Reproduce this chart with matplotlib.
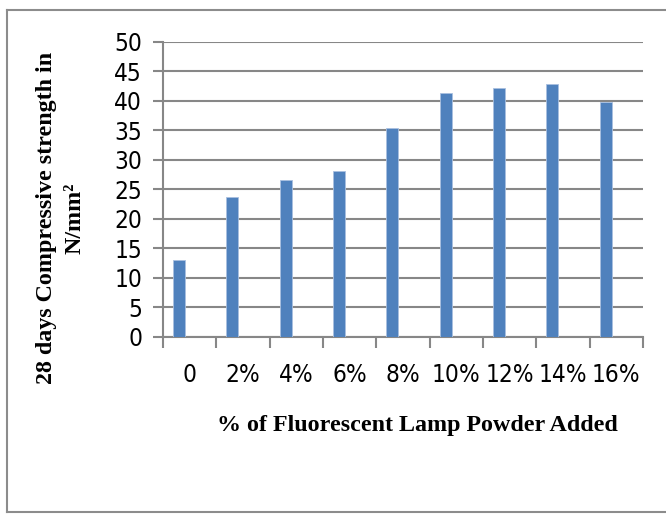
import matplotlib
matplotlib.use("Agg")
import matplotlib.pyplot as plt
from matplotlib.lines import Line2D
import numpy as np

# data
categories = ["0", "2%", "4%", "6%", "8%", "10%", "12%", "14%", "16%"]
strength = [13.0, 23.7, 26.6, 28.1, 35.5, 41.4, 42.2, 42.8, 39.8]

tick_font = ["DejaVu Sans"]
label_font = ["Liberation Serif", "DejaVu Serif"]
grid_col = "#878787"

fig = plt.figure(figsize=(6.66, 5.14), dpi=100)
ax = fig.add_axes([0.2447, 0.3444, 0.7208, 0.5739])

x = np.arange(len(categories))
ax.bar(x - 0.2, strength, width=0.22, color="#4f81bd", edgecolor="#a9c0e0",
       linewidth=0.6, zorder=3)

ax.set_xlim(-0.5, len(categories) - 0.5)
ax.set_ylim(0, 50)
ax.set_yticks(np.arange(0, 51, 5))
ax.yaxis.grid(True, color=grid_col, linewidth=1.5)
ax.set_axisbelow(True)

# category boundaries get the tick marks, labels sit in the middle
ax.set_xticks(np.arange(-0.5, len(categories), 1))
ax.set_xticklabels([])
ax.set_xticks(x, minor=True)
ax.set_xticklabels(categories, minor=True)
ax.tick_params(axis="x", which="major", length=8, width=1.5, color=grid_col)
ax.tick_params(axis="x", which="minor", length=0, pad=19)
ax.tick_params(axis="y", length=7, width=1.5, color=grid_col, pad=8)
for lab in ax.get_yticklabels() + ax.get_xticklabels(minor=True):
    lab.set_fontfamily(tick_font)
    lab.set_fontstretch("condensed")
    lab.set_fontsize(17.5)

for side in ["top", "right"]:
    ax.spines[side].set_visible(False)
ax.spines["left"].set_color(grid_col)
ax.spines["left"].set_linewidth(1.5)
ax.spines["bottom"].set_color(grid_col)
ax.spines["bottom"].set_linewidth(1.5)

fig.text(0.626, 0.173, "% of Fluorescent Lamp Powder Added", ha="center", va="center",
         fontfamily=label_font, fontweight="bold", fontsize=17.3)
fig.text(0.070, 0.576, "28 days Compressive strength in", rotation=90, ha="center",
         va="center", fontfamily=label_font, fontweight="bold", fontsize=17.3)
fig.text(0.113, 0.576, "N/mm²", rotation=90, ha="center", va="center",
         fontfamily=label_font, fontweight="bold", fontsize=17.3)

# outer chart border (right side runs off the image)
bx0, by0, by1 = 6.5 / 666, 1 - 512 / 514, 1 - 9.5 / 514
for xs, ys in [([bx0, bx0], [by0, by1]), ([bx0, 1], [by1, by1]), ([bx0, 1], [by0, by0])]:
    fig.add_artist(Line2D(xs, ys, transform=fig.transFigure, color="#8c8c8c", linewidth=1.5))

fig.savefig("out.png", dpi=100)
